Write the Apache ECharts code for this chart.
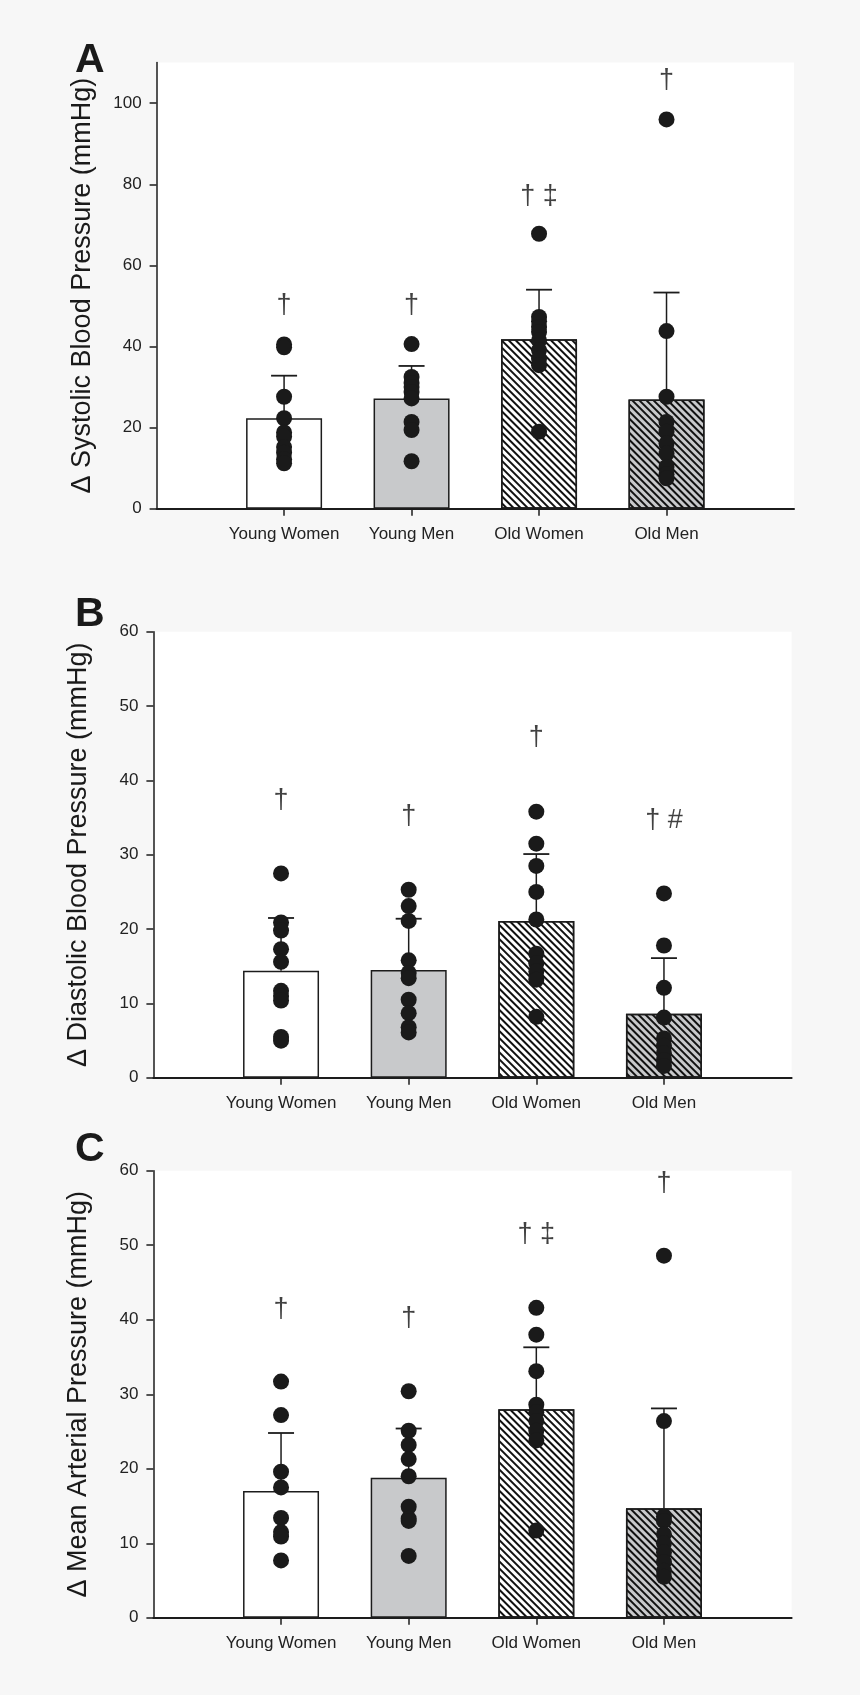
<!DOCTYPE html>
<html><head><meta charset="utf-8">
<script src="https://cdn.jsdelivr.net/npm/echarts@6/dist/echarts.min.js"></script>
<style>html,body{margin:0;padding:0;background:#f7f7f7;}#c{width:860px;height:1695px;}</style>
</head><body><div id="c"></div>
<script>
// ---------- DATA ----------
const categories = ['Young Women', 'Young Men', 'Old Women', 'Old Men'];

// Panel A: Δ Systolic blood pressure
const sbpMean = [22.3, 27.2, 41.8, 26.9];
const sbpSD = [10.5, 8.0, 12.2, 26.4];
const sbpYoungWomen = [40.5, 39.8, 27.6, 22.3, 18.8, 17.8, 15.2, 13.8, 12.2, 11.2];
const sbpYoungMen = [40.6, 32.5, 31.0, 30.0, 28.8, 27.2, 21.4, 19.4, 11.7];
const sbpOldWomen = [67.8, 47.3, 46.2, 44.8, 43.6, 41.5, 39.1, 37.0, 35.4, 19.0];
const sbpOldMen = [96.0, 43.8, 27.6, 21.4, 19.0, 16.1, 13.6, 10.3, 8.5, 7.5];
const sbpSig = ['†', '†', '† ‡', '†'];
const sbpSigAt = [50, 50, 77, 105.5];
const sbpTicks = [0, 20, 40, 60, 80, 100];

// Panel B: Δ Diastolic blood pressure
const dbpMean = [14.4, 14.5, 21.1, 8.6];
const dbpSD = [7.1, 6.9, 9.0, 7.5];
const dbpYoungWomen = [27.5, 20.9, 19.8, 17.3, 15.6, 11.7, 11.0, 10.4, 5.5, 5.0];
const dbpYoungMen = [25.3, 23.1, 21.1, 15.8, 14.1, 13.4, 10.5, 8.7, 6.8, 6.1];
const dbpOldWomen = [35.8, 31.5, 28.5, 25.0, 21.3, 16.7, 15.4, 14.3, 13.2, 8.2];
const dbpOldMen = [24.8, 17.8, 12.1, 8.1, 5.3, 4.3, 3.3, 2.4, 1.6];
const dbpSig = ['†', '†', '†', '† #'];
const dbpSigAt = [37.3, 35.2, 45.8, 34.6];
const dbpTicks = [0, 10, 20, 30, 40, 50, 60];

// Panel C: Δ Mean arterial pressure
const mapMean = [17.0, 18.8, 28.0, 14.7];
const mapSD = [7.8, 6.6, 8.3, 13.4];
const mapYoungWomen = [31.7, 27.2, 19.6, 17.5, 13.4, 11.5, 10.9, 7.7];
const mapYoungMen = [30.4, 25.1, 23.2, 21.3, 19.0, 14.9, 13.3, 13.0, 8.3];
const mapOldWomen = [41.6, 38.0, 33.1, 28.6, 27.6, 26.4, 25.1, 23.8, 11.7];
const mapOldMen = [48.6, 26.4, 13.6, 13.0, 11.2, 10.0, 8.8, 7.5, 6.3, 5.5];
const mapSig = ['†', '†', '† ‡', '†'];
const mapSigAt = [41.4, 40.1, 51.4, 58.3];
const mapTicks = [0, 10, 20, 30, 40, 50, 60];

// ---------- CHART ----------
const ink = '#1c1c1c';
const sans = "'Liberation Sans',Arial,Helvetica,sans-serif";
const hatch = {symbol: 'rect', symbolSize: 1, dashArrayX: [1, 0], dashArrayY: [2, 3], rotation: Math.PI / 4, color: '#111'};
const barStyles = [
  {color: '#ffffff', borderColor: ink, borderWidth: 1.5},
  {color: '#c8c9cb', borderColor: ink, borderWidth: 1.5},
  {color: '#ffffff', borderColor: ink, borderWidth: 1.5, decal: hatch},
  {color: '#c8c9cb', borderColor: ink, borderWidth: 1.5, decal: hatch}
];
const xCats = [''].concat(categories, ['']);

const panels = [
  {letter: 'A', title: 'Δ Systolic Blood Pressure (mmHg)', mean: sbpMean, sd: sbpSD,
   pts: [sbpYoungWomen, sbpYoungMen, sbpOldWomen, sbpOldMen], sig: sbpSig, sigAt: sbpSigAt,
   ticks: sbpTicks, max: 110, grid: {left: 156.6, top: 62.6, width: 637.4, height: 446.1}, letterTop: 40},
  {letter: 'B', title: 'Δ Diastolic Blood Pressure (mmHg)', mean: dbpMean, sd: dbpSD,
   pts: [dbpYoungWomen, dbpYoungMen, dbpOldWomen, dbpOldMen], sig: dbpSig, sigAt: dbpSigAt,
   ticks: dbpTicks, max: 60, grid: {left: 153.4, top: 631.8, width: 638.2, height: 446}, letterTop: 594},
  {letter: 'C', title: 'Δ Mean Arterial Pressure (mmHg)', mean: mapMean, sd: mapSD,
   pts: [mapYoungWomen, mapYoungMen, mapOldWomen, mapOldMen], sig: mapSig, sigAt: mapSigAt,
   ticks: mapTicks, max: 60, grid: {left: 153.4, top: 1170.7, width: 638.2, height: 447.1}, letterTop: 1129}
];

const grids = [], xAxes = [], yAxes = [], series = [], graphics = [];
panels.forEach((p, i) => {
  grids.push(Object.assign({show: true, backgroundColor: '#ffffff', borderWidth: 0}, p.grid));
  xAxes.push({
    gridIndex: i, type: 'category', data: xCats, boundaryGap: false,
    axisLine: {show: true, lineStyle: {color: ink, width: 2}},
    axisTick: {show: true, length: 7, interval: (idx, v) => v !== '', lineStyle: {color: ink, width: 1.5}},
    axisLabel: {interval: 0, margin: 17, fontSize: 17, fontFamily: sans, color: '#222'},
    splitLine: {show: false}
  });
  yAxes.push({
    gridIndex: i, type: 'value', min: 0, max: p.max,
    name: p.title, nameLocation: 'middle', nameGap: 61,
    nameTextStyle: {fontSize: 27, fontFamily: sans, color: '#1a1a1a'},
    axisLine: {show: true, lineStyle: {color: ink, width: 1.5}},
    axisTick: {show: true, length: 7, customValues: p.ticks, lineStyle: {color: ink, width: 1.5}},
    axisLabel: {customValues: p.ticks, margin: 15, fontSize: 17, fontFamily: sans, color: '#222'},
    splitLine: {show: false}
  });
  series.push({
    type: 'bar', xAxisIndex: i, yAxisIndex: i, barWidth: 76, z: 2,
    data: [null].concat(p.mean.map((m, k) => ({value: m, itemStyle: barStyles[k]})), [null])
  });
  series.push({
    type: 'custom', xAxisIndex: i, yAxisIndex: i, z: 3,
    data: categories.map((c, k) => [c, p.mean[k], p.mean[k] + p.sd[k]]),
    renderItem: (params, api) => {
      const a = api.coord([api.value(0), api.value(1)]);
      const b = api.coord([api.value(0), api.value(2)]);
      const hw = 13;
      return {type: 'group', children: [
        {type: 'line', shape: {x1: a[0], y1: a[1], x2: b[0], y2: b[1]}, style: {stroke: ink, lineWidth: 1.5}},
        {type: 'line', shape: {x1: b[0] - hw, y1: b[1], x2: b[0] + hw, y2: b[1]}, style: {stroke: ink, lineWidth: 1.8}}
      ]};
    }
  });
  const dots = [];
  p.pts.forEach((arr, k) => arr.forEach(v => dots.push([categories[k], v])));
  series.push({
    type: 'scatter', xAxisIndex: i, yAxisIndex: i, z: 4, symbol: 'circle', symbolSize: 16,
    itemStyle: {color: '#1a1a1a', opacity: 1}, data: dots
  });
  series.push({
    type: 'scatter', xAxisIndex: i, yAxisIndex: i, z: 5, symbolSize: 0,
    itemStyle: {color: 'transparent'},
    label: {show: true, position: 'inside', formatter: q => q.data.name,
      fontSize: 27, fontFamily: sans, color: '#111'},
    data: categories.map((c, k) => ({name: p.sig[k], value: [c, p.sigAt[k]]}))
  });
  graphics.push({type: 'text', left: 75, top: p.letterTop,
    style: {text: p.letter, fontSize: 41, fontWeight: 'bold', fontFamily: sans, fill: '#1a1a1a'}});
});

const chart = echarts.init(document.getElementById('c'), null, {renderer: 'canvas'});
chart.setOption({
  backgroundColor: '#f7f7f7',
  animation: false,
  grid: grids, xAxis: xAxes, yAxis: yAxes, series: series, graphic: graphics
});
</script></body></html>
